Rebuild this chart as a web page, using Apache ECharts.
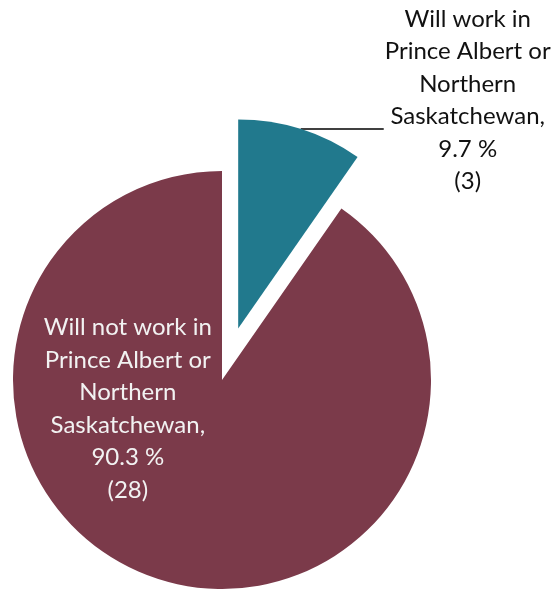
<!DOCTYPE html>
<html>
<head>
<meta charset="utf-8">
<script src="https://cdn.jsdelivr.net/npm/echarts@6/dist/echarts.min.js"></script>
<style>
  html, body { margin: 0; padding: 0; background: #fff; }
  #chart { width: 558px; height: 589px; }
</style>
</head>
<body>
<div id="chart"></div>
<script>
// Survey answers: where respondents plan to work
const categories = [
  'Will work in\nPrince Albert or\nNorthern\nSaskatchewan',
  'Will not work in\nPrince Albert or\nNorthern\nSaskatchewan'
];
const counts = [3, 28];
const percents = [9.7, 90.3];
const colors = ['#21798D', '#7B3A4A'];

const FONT = 'Lato';
const FS = 24;
const LH = 32.5;

function labelText(i) {
  const lines = (categories[i] + ',\n' + percents[i] + ' %\n(' + counts[i] + ')').split('\n');
  return lines.map(l => '{c|' + l + '}').join('\n');
}

const chart = echarts.init(document.getElementById('chart'));
chart.setOption({
  animation: false,
  series: [{
    type: 'pie',
    left: 0,
    top: 0,
    width: 1000,
    height: 589,
    center: [222, 380],
    radius: 209,
    startAngle: 90,
    clockwise: true,
    selectedMode: 'single',
    selectedOffset: 54,
    avoidLabelOverlap: false,
    silent: true,
    data: [
      {
        value: counts[0],
        name: categories[0],
        selected: true,
        itemStyle: { color: colors[0] },
        label: {
          show: true,
          position: 'outside',
          formatter: () => labelText(0),
          distanceToLabelLine: 1,
          padding: [0, 0, 58, 0],
          rich: {
            c: { fontFamily: FONT, fontSize: FS, lineHeight: LH, color: '#111', align: 'center' }
          }
        },
        labelLine: {
          show: true,
          length: 0,
          length2: 83,
          smooth: false,
          lineStyle: { color: '#000', width: 1.5 }
        }
      },
      {
        value: counts[1],
        name: categories[1],
        itemStyle: { color: colors[1] },
        label: {
          show: true,
          position: 'inside',
          formatter: () => labelText(1),
          rich: {
            c: { fontFamily: FONT, fontSize: FS, lineHeight: LH, color: '#F2F2F2', align: 'center' }
          }
        },
        labelLine: { show: false }
      }
    ],
    labelLayout: function (params) {
      if (params.dataIndex === 1) {
        return { dx: -62, dy: -74 };
      }
      return {};
    }
  }]
});
</script>
</body>
</html>
